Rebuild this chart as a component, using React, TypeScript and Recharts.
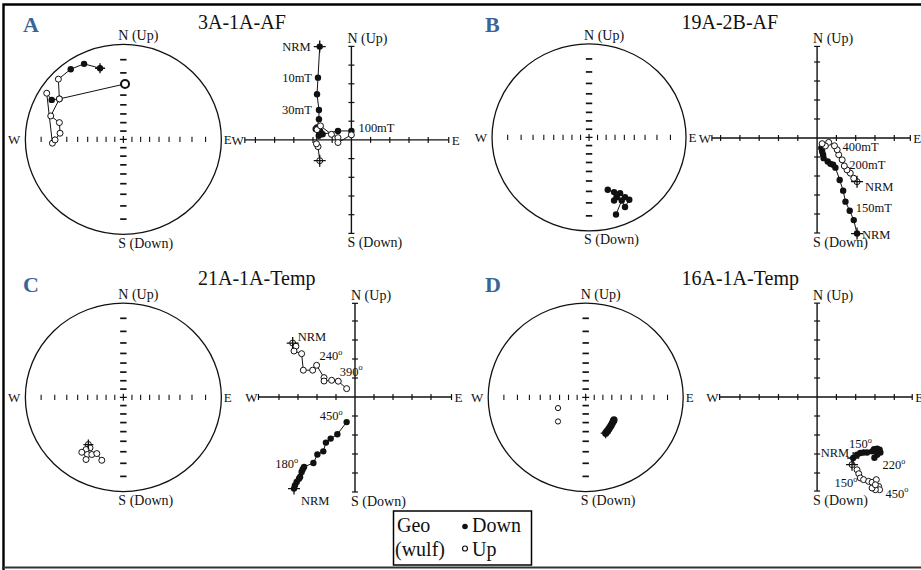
import {
  ReferenceArea,
  ReferenceDot,
  ReferenceLine,
  Scatter,
  ScatterChart,
  XAxis,
  YAxis,
} from "recharts"

const SERIF = '"Liberation Serif", "Times New Roman", serif'
const INK = "#111"
const BLUE = "#3b6496"

type Pt = { x: number; y: number }
type NetPt = Pt & { down: boolean }

const pts = (rows: number[][]): Pt[] => rows.map(([x, y]) => ({ x, y }))

// grid of the Wulff net: a tick every 10 degrees of inclination
const netIncTicks = [10, 20, 30, 40, 50, 60, 70, 80]
// Zijderveld axis ticks (one tick = one unit)
const zijTicks = [-5, -4, -3, -2, -1, 1, 2, 3, 4, 5]

// ---- A: 3A-1A-AF ----
const netAPath: NetPt[] = [
  { x: -0.238, y: 0.749, down: true },
  { x: -0.401, y: 0.795, down: true },
  { x: -0.537, y: 0.739, down: true },
  { x: -0.663, y: 0.634, down: false },
  { x: -0.653, y: 0.426, down: false },
  { x: -0.731, y: 0.416, down: true },
  { x: -0.782, y: 0.486, down: false },
  { x: -0.724, y: -0.04, down: false },
  { x: -0.697, y: -0.005, down: false },
  { x: -0.646, y: 0.065, down: false },
  { x: -0.653, y: 0.177, down: false },
  { x: -0.741, y: 0.247, down: false },
  { x: -0.653, y: 0.426, down: false },
  { x: 0.017, y: 0.584, down: false },
]
const zijADown = pts([
  [-1.65, 4.99], [-1.74, 3.33], [-1.79, 2.44], [-1.69, 1.6], [-1.69, 1.11], [-1.79, 0.66],
  [-1.86, 0.58], [-1.62, 0.45], [-1.7, 0.22], [-1.5, 0.3], [-0.7, 0.48], [0, 0.48],
])
const zijAUp = pts([
  [-1.65, -1.11], [-1.74, -0.36], [-1.82, -0.21], [-1.79, 0.55], [-1.61, 0.75],
  [-1.04, 0.3], [-0.7, 0.12], [-0.7, -0.14], [0, 0.27],
])

// ---- B: 19A-2B-AF ----
const netBDown = pts([
  [0.278, -0.824], [0.337, -0.674], [0.371, -0.745], [0.415, -0.666], [0.371, -0.639],
  [0.32, -0.596], [0.286, -0.639], [0.258, -0.674], [0.258, -0.585], [0.193, -0.559],
])
const zijBDown = pts([
  [2.07, -5.03], [1.9, -4.32], [1.69, -3.83], [1.47, -3.35], [1.35, -2.77], [1.17, -2.21],
  [0.95, -1.56], [0.83, -1.41], [0.69, -1.36], [0.55, -1.24], [0.34, -1.06], [0.31, -0.88],
  [0.26, -0.71], [0.22, -0.53],
])
const zijBUp = pts([
  [2.07, -2.3], [1.9, -2.12], [1.72, -1.85], [1.55, -1.68], [1.41, -1.47], [1.3, -1.15],
  [1.12, -0.88], [1.04, -0.62], [0.9, -0.41], [0.6, -0.23], [0.43, -0.42], [0.26, -0.3],
])

// ---- C: 21A-1A-Temp ----
const netCUp = pts([
  [-0.357, -0.501], [-0.34, -0.536], [-0.381, -0.554], [-0.424, -0.583], [-0.367, -0.607],
  [-0.381, -0.66], [-0.322, -0.607], [-0.271, -0.597], [-0.22, -0.668],
])
const zijCDown = pts([
  [-3.21, -4.82], [-3.16, -4.65], [-3.07, -4.47], [-2.95, -4.3], [-2.89, -4.21], [-2.81, -3.95],
  [-2.75, -3.8], [-2.68, -3.68], [-2.19, -3.47], [-1.98, -3.03], [-1.67, -2.86], [-1.53, -2.4],
  [-1.28, -2.19], [-0.93, -1.96], [-0.44, -1.32],
])
const zijCUp = pts([
  [-3.28, 2.84], [-3.11, 2.67], [-3.21, 2.42], [-2.81, 2.28], [-2.72, 1.41], [-2.23, 1.41],
  [-2.02, 1.67], [-1.63, 1.02], [-1.63, 0.84], [-1.23, 0.88], [-0.88, 0.83], [-0.44, 0.44],
])

// ---- D: 16A-1A-Temp ----
const netDDown = pts([
  [0.205, -0.38], [0.212, -0.37], [0.225, -0.352], [0.238, -0.335], [0.25, -0.315],
  [0.262, -0.295], [0.275, -0.27], [0.285, -0.25], [0.29, -0.24],
])
const netDUp = pts([[-0.284, -0.114], [-0.284, -0.256]])
const zijDDown = pts([
  [1.87, -3.21], [2.07, -3.04], [2.24, -2.95], [2.41, -2.92], [2.59, -2.92], [2.85, -2.86],
  [2.95, -2.75], [3.11, -2.72], [3.24, -2.77], [3.28, -2.92], [3.11, -3.04], [2.97, -3.2],
])
const zijDUp = pts([
  [1.81, -3.56], [2.07, -3.83], [2.16, -4.04], [2.24, -4.26], [2.41, -4.35], [2.67, -4.44],
  [2.85, -4.49], [3.07, -4.35], [3.19, -4.71], [3.24, -4.88], [3.02, -4.88], [2.85, -4.79],
  [3.02, -4.62],
])

type Note = { text: string; on: "down" | "up"; i: number; dx: number; dy: number; anchor?: "start" | "middle" | "end" }

const zijANotes: Note[] = [
  { text: "NRM", on: "down", i: 0, dx: -9, dy: 4, anchor: "end" },
  { text: "10mT", on: "down", i: 1, dx: -6, dy: 4, anchor: "end" },
  { text: "30mT", on: "down", i: 3, dx: -7, dy: 4, anchor: "end" },
  { text: "100mT", on: "down", i: 11, dx: 7, dy: 1 },
]
const zijBNotes: Note[] = [
  { text: "400mT", on: "up", i: 8, dx: 8, dy: 5 },
  { text: "200mT", on: "up", i: 4, dx: 5, dy: 3 },
  { text: "NRM", on: "up", i: 0, dx: 8, dy: 9 },
  { text: "150mT", on: "down", i: 2, dx: 6, dy: 1 },
  { text: "NRM", on: "down", i: 0, dx: 5, dy: 5 },
]
const zijCNotes: Note[] = [
  { text: "NRM", on: "up", i: 0, dx: 5, dy: -2 },
  { text: "240°", on: "up", i: 6, dx: 3, dy: -5 },
  { text: "390°", on: "up", i: 11, dx: -7, dy: -13 },
  { text: "450°", on: "down", i: 14, dx: -4, dy: -2, anchor: "end" },
  { text: "180°", on: "down", i: 7, dx: -6, dy: 1, anchor: "end" },
  { text: "NRM", on: "down", i: 0, dx: 7, dy: 16 },
]
const zijDNotes: Note[] = [
  { text: "NRM", on: "down", i: 0, dx: -4, dy: -1, anchor: "end" },
  { text: "150°", on: "down", i: 2, dx: 0, dy: -5, anchor: "middle" },
  { text: "220°", on: "down", i: 9, dx: 2, dy: 17 },
  { text: "150°", on: "up", i: 3, dx: -3, dy: 9, anchor: "end" },
  { text: "450°", on: "up", i: 9, dx: 6, dy: 8 },
]

// ---- shapes ----
const dot = (r: number) => (p: any) => <circle cx={p.cx} cy={p.cy} r={r} fill={INK} />
const ring = (r: number, w = 1) => (p: any) => (
  <circle cx={p.cx} cy={p.cy} r={r} fill="#fff" stroke={INK} strokeWidth={w} />
)
const cross = (a: number, w = 1.3) => (p: any) => (
  <path d={`M${p.cx - a} ${p.cy}H${p.cx + a}M${p.cx} ${p.cy - a}V${p.cy + a}`} stroke={INK} strokeWidth={w} fill="none" />
)
const hTick = (a: number, w = 1.2) => (p: any) => (
  <line x1={p.cx - a} x2={p.cx + a} y1={p.cy} y2={p.cy} stroke={INK} strokeWidth={w} />
)
const vTick = (a: number, w = 1) => (p: any) => (
  <line x1={p.cx} x2={p.cx} y1={p.cy - a} y2={p.cy + a} stroke={INK} strokeWidth={w} />
)
const noDot = () => <g />
const ellipse = (p: any) => (
  <ellipse cx={p.x + p.width / 2} cy={p.y + p.height / 2} rx={p.width / 2} ry={p.height / 2} fill="none" stroke={INK} strokeWidth={1.3} />
)

function Label({ x, y, text, anchor = "start", size }: { x: number; y: number; text: string; anchor?: string; size: number }) {
  const deg = text.endsWith("°")
  return (
    <text x={x} y={y} textAnchor={anchor as any} fontFamily={SERIF} fontSize={size} fill={INK}>
      {deg ? text.slice(0, -1) : text}
      {deg && (
        <tspan dy={-size * 0.42} fontSize={size * 0.66}>
          o
        </tspan>
      )}
    </text>
  )
}

const textAt = (text: string, dx: number, dy: number, anchor: string, size: number) => (p: any) => (
  <Label x={p.cx + dx} y={p.cy + dy} text={text} anchor={anchor} size={size} />
)

const line = { stroke: INK, strokeWidth: 1 }
const margin = { top: 0, right: 0, bottom: 0, left: 0 }

// ---- stereonet ----
type NetLayout = { cx: number; cy: number; rx: number; ry: number }
const NET_PAD = 1.32
const netRadii = netIncTicks.map((inc) => Math.tan((((90 - inc) / 2) * Math.PI) / 180))
const netRowTicks = netRadii.flatMap((r) => [{ x: r, y: 0 }, { x: -r, y: 0 }])
const netColTicks = netRadii.flatMap((r) => [{ x: 0, y: r }, { x: 0, y: -r }])

type NetProps = { at: NetLayout; lines: Pt[][]; filled?: Pt[]; open?: Pt[]; nrm?: Pt; big?: Pt; openR?: number; dotR?: number }

function NetPlot({ at, lines, filled = [], open = [], nrm, big, openR = 3, dotR = 3.2 }: NetProps) {
  const w = 2 * NET_PAD * at.rx
  const h = 2 * NET_PAD * at.ry
  return (
    <div style={{ position: "absolute", left: at.cx - w / 2, top: at.cy - h / 2 }}>
      <ScatterChart width={w} height={h} margin={margin}>
        <XAxis type="number" dataKey="x" domain={[-NET_PAD, NET_PAD]} hide />
        <YAxis type="number" dataKey="y" domain={[-NET_PAD, NET_PAD]} hide />
        <ReferenceArea x1={-1} x2={1} y1={-1} y2={1} shape={ellipse} />
        <Scatter data={netRowTicks} shape={vTick(2.7, 1.1)} isAnimationActive={false} />
        <Scatter data={netColTicks} shape={hTick(3.2, 1.7)} isAnimationActive={false} />
        <Scatter data={[{ x: 0, y: 0 }]} shape={cross(3.5, 1.2)} isAnimationActive={false} />
        {lines.map((l, k) => (
          <Scatter key={`l${k}`} data={l} line={line} shape={noDot} isAnimationActive={false} />
        ))}
        <Scatter data={filled} shape={dot(dotR)} isAnimationActive={false} />
        <Scatter data={open} shape={ring(openR)} isAnimationActive={false} />
        {nrm && <Scatter data={[nrm]} shape={cross(5)} isAnimationActive={false} />}
        {big && <Scatter data={[big]} shape={ring(4, 2)} isAnimationActive={false} />}
        <ReferenceDot x={0} y={1} r={0} shape={textAt("N (Up)", -5, -4, "start", 14)} />
        <ReferenceDot x={0} y={-1} r={0} shape={textAt("S (Down)", -5, 13.5, "start", 14)} />
        <ReferenceDot x={-1} y={0} r={0} shape={textAt("W", -5, 5, "end", 13)} />
        <ReferenceDot x={1} y={0} r={0} shape={textAt("E", 2.5, 5, "start", 13)} />
      </ScatterChart>
    </div>
  )
}

// ---- Zijderveld ----
type ZijLayout = { cx: number; cy: number; ux: number; uy: number; left: number; right: number; bottom: number; top: number }
const ZIJ_PAD = 7

function ZijPlot({ at, down, up, notes }: { at: ZijLayout; down: Pt[]; up: Pt[]; notes: Note[] }) {
  const w = 2 * ZIJ_PAD * at.ux
  const h = 2 * ZIJ_PAD * at.uy
  const xt = [...zijTicks.filter((t) => t > at.left + 0.2 && t < at.right - 0.2), at.left, at.right]
  const yt = [...zijTicks.filter((t) => t > at.bottom + 0.2 && t < at.top - 0.2), at.bottom, at.top]
  return (
    <div style={{ position: "absolute", left: at.cx - w / 2, top: at.cy - h / 2 }}>
      <ScatterChart width={w} height={h} margin={margin}>
        <XAxis type="number" dataKey="x" domain={[-ZIJ_PAD, ZIJ_PAD]} hide />
        <YAxis type="number" dataKey="y" domain={[-ZIJ_PAD, ZIJ_PAD]} hide />
        <ReferenceLine segment={[{ x: at.left, y: 0 }, { x: at.right, y: 0 }]} stroke={INK} strokeWidth={1.4} />
        <ReferenceLine segment={[{ x: 0, y: at.bottom }, { x: 0, y: at.top }]} stroke={INK} strokeWidth={1.4} />
        <Scatter data={xt.map((x) => ({ x, y: 0 }))} shape={vTick(3, 1.2)} isAnimationActive={false} />
        <Scatter data={yt.map((y) => ({ x: 0, y }))} shape={hTick(3, 1.2)} isAnimationActive={false} />
        <Scatter data={down} line={line} shape={dot(3.2)} isAnimationActive={false} />
        <Scatter data={up} line={line} shape={ring(3)} isAnimationActive={false} />
        <Scatter data={[down[0], up[0]]} shape={cross(6)} isAnimationActive={false} />
        {notes.map((n, k) => {
          const p = (n.on === "down" ? down : up)[n.i]
          return (
            <ReferenceDot key={`n${k}`} x={p.x} y={p.y} r={0} shape={textAt(n.text, n.dx, n.dy, n.anchor ?? "start", 12.5)} />
          )
        })}
        <ReferenceDot x={0} y={at.top} r={0} shape={textAt("N (Up)", -4, -3, "start", 14)} />
        <ReferenceDot x={0} y={at.bottom} r={0} shape={textAt("S (Down)", -4, 14, "start", 14)} />
        <ReferenceDot x={at.left} y={0} r={0} shape={textAt("W", -1, 5, "end", 13)} />
        <ReferenceDot x={at.right} y={0} r={0} shape={textAt("E", 3, 5, "start", 13)} />
      </ScatterChart>
    </div>
  )
}

const netA: NetLayout = { cx: 123.3, cy: 139.5, rx: 98, ry: 95 }
const netB: NetLayout = { cx: 589.5, cy: 137, rx: 97, ry: 93.5 }
const netC: NetLayout = { cx: 123.3, cy: 397.8, rx: 98, ry: 94.2 }
const netD: NetLayout = { cx: 586, cy: 397.6, rx: 97.5, ry: 94.2 }

const zijA: ZijLayout = { cx: 351.7, cy: 140, ux: 19.2, uy: 18.7, left: -5.55, right: 5.07, bottom: -5, top: 5 }
const zijB: ZijLayout = { cx: 816.7, cy: 138.3, ux: 19.3, uy: 19, left: -5.45, right: 4.83, bottom: -5, top: 4.82 }
const zijC: ZijLayout = { cx: 355, cy: 396.7, ux: 19, uy: 19, left: -5.08, right: 5.08, bottom: -5, top: 4.93 }
const zijD: ZijLayout = { cx: 816.7, cy: 397.3, ux: 19.3, uy: 19, left: -5.05, right: 4.93, bottom: -4.95, top: 4.94 }

const titles = [
  { letter: "A", name: "3A-1A-AF", lx: 23, ly: 32, tx: 198, ty: 28.5 },
  { letter: "B", name: "19A-2B-AF", lx: 485, ly: 32, tx: 681.5, ty: 28.5 },
  { letter: "C", name: "21A-1A-Temp", lx: 23, ly: 292, tx: 198, ty: 285 },
  { letter: "D", name: "16A-1A-Temp", lx: 485, ly: 292, tx: 681.5, ty: 285 },
]

export default function App() {
  return (
    <div style={{ position: "absolute", left: 0, top: 0, width: 921, height: 570, overflow: "hidden", background: "#fff" }}>
      <NetPlot
        at={netA}
        lines={[netAPath]}
        filled={netAPath.filter((p) => p.down)}
        open={netAPath.filter((p) => !p.down)}
        nrm={netAPath[0]}
        big={netAPath[netAPath.length - 1]}
      />
      <NetPlot at={netB} lines={[netBDown]} filled={netBDown} />
      <NetPlot at={netC} lines={[netCUp]} open={netCUp} nrm={netCUp[0]} />
      <NetPlot at={netD} lines={[netDDown]} filled={netDDown} open={netDUp} nrm={netDDown[0]} openR={2.6} dotR={3.6} />
      <ZijPlot at={zijA} down={zijADown} up={zijAUp} notes={zijANotes} />
      <ZijPlot at={zijB} down={zijBDown} up={zijBUp} notes={zijBNotes} />
      <ZijPlot at={zijC} down={zijCDown} up={zijCUp} notes={zijCNotes} />
      <ZijPlot at={zijD} down={zijDDown} up={zijDUp} notes={zijDNotes} />
      <svg width={921} height={570} style={{ position: "absolute", left: 0, top: 0, pointerEvents: "none" }}>
        <path d="M3.5 570V4.5H921" fill="none" stroke="#000" strokeWidth={2.4} />
        <line x1={2} x2={921} y1={567.5} y2={567.5} stroke="#333" strokeWidth={1.8} />
        {titles.map((t) => (
          <g key={t.letter}>
            <text x={t.lx} y={t.ly} fontFamily={SERIF} fontSize={22} fontWeight="bold" fill={BLUE}>
              {t.letter}
            </text>
            <text x={t.tx} y={t.ty} fontFamily={SERIF} fontSize={20} fill={INK}>
              {t.name}
            </text>
          </g>
        ))}
        <rect x={393.5} y={511} width={138} height={54} fill="#fff" stroke="#000" strokeWidth={1.5} />
        <text x={397} y={532} fontFamily={SERIF} fontSize={20} fill={INK}>Geo</text>
        <text x={395} y={555.5} fontFamily={SERIF} fontSize={20} fill={INK}>(wulf)</text>
        <circle cx={465} cy={526.5} r={2.8} fill={INK} />
        <text x={472} y={532} fontFamily={SERIF} fontSize={20} fill={INK}>Down</text>
        <circle cx={465} cy={548.5} r={2.5} fill="#fff" stroke={INK} strokeWidth={1.2} />
        <text x={472} y={555.5} fontFamily={SERIF} fontSize={20} fill={INK}>Up</text>
      </svg>
    </div>
  )
}
